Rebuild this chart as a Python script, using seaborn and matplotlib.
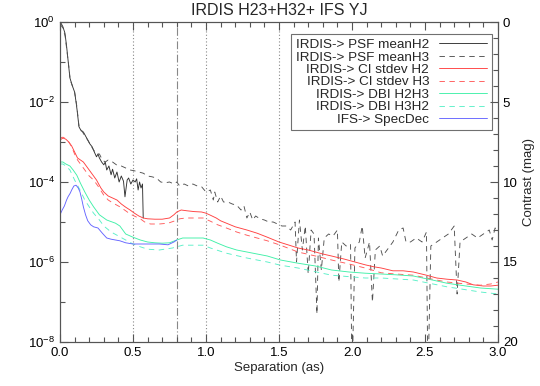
import numpy as np
import matplotlib
matplotlib.use("Agg")
import matplotlib.pyplot as plt
import seaborn as sns
from matplotlib.ticker import FixedLocator, NullFormatter, MultipleLocator, FormatStrFormatter, LogFormatterSciNotation

# Curvas de contraste (log10 de la intensidad relativa)
sep_psf_h2 = [0.0, 0.01, 0.02, 0.034, 0.045, 0.055, 0.068, 0.085, 0.1, 0.11, 0.117, 0.13, 0.145, 0.16,
              0.175, 0.19, 0.205, 0.22, 0.235, 0.25, 0.26, 0.27, 0.285, 0.3, 0.31, 0.32, 0.335, 0.35,
              0.36, 0.375, 0.39, 0.405, 0.42, 0.435, 0.445, 0.46, 0.47, 0.485, 0.5, 0.515, 0.525,
              0.535, 0.545, 0.555, 0.565, 0.57]
log_psf_h2 = [0.0, -0.05, -0.12, -0.28, -0.6, -0.95, -1.4, -1.6, -1.75, -2.0, -2.2, -2.62, -2.72, -2.75,
              -2.85, -2.95, -3.05, -3.12, -3.25, -3.37, -3.3, -3.4, -3.5, -3.57, -3.5, -3.7, -3.6, -3.82,
              -3.68, -3.9, -3.75, -4.0, -3.85, -3.98, -4.37, -3.95, -3.9, -4.05, -3.95, -4.0, -3.92,
              -4.2, -4.0, -4.15, -4.05, -4.9]

sep_psf_h3 = [0.0, 0.02, 0.035, 0.05, 0.06, 0.07, 0.085, 0.1, 0.115, 0.13, 0.15, 0.17, 0.19, 0.21, 0.23,
              0.25, 0.27, 0.29, 0.31, 0.33, 0.36, 0.39, 0.42, 0.45, 0.48, 0.51, 0.54, 0.57, 0.6, 0.63,
              0.66, 0.69, 0.72, 0.75, 0.78, 0.8, 0.82, 0.85, 0.88, 0.91, 0.94, 0.97, 1.0, 1.03, 1.05,
              1.06, 1.08, 1.1, 1.12, 1.15, 1.18, 1.21, 1.24, 1.26, 1.28, 1.3, 1.32, 1.34, 1.37, 1.4,
              1.43, 1.46, 1.49, 1.52, 1.55, 1.58, 1.61, 1.62, 1.64, 1.66, 1.68, 1.7, 1.72, 1.74, 1.76,
              1.77, 1.79, 1.81, 1.84, 1.87, 1.9, 1.91, 1.93, 1.96, 1.99, 2.0, 2.02, 2.05, 2.07, 2.09,
              2.12, 2.14, 2.16, 2.19, 2.21, 2.24, 2.28, 2.32, 2.35, 2.37, 2.4, 2.44, 2.48, 2.51, 2.52,
              2.54, 2.58, 2.62, 2.66, 2.7, 2.72, 2.74, 2.78, 2.82, 2.86, 2.9, 2.94, 2.96, 2.98, 3.0]
log_psf_h3 = [-0.05, -0.15, -0.35, -0.8, -1.1, -1.45, -1.6, -1.75, -2.1, -2.6, -2.72, -2.85, -2.95, -3.08,
              -3.2, -3.3, -3.3, -3.45, -3.5, -3.45, -3.5, -3.58, -3.6, -3.65, -3.7, -3.72, -3.75, -3.78,
              -3.85, -3.87, -3.9, -4.0, -4.02, -4.0, -4.05, -4.0, -4.1, -4.05, -4.1, -4.05, -4.1, -4.12,
              -4.25, -4.2, -4.45, -4.25, -4.5, -4.35, -4.5, -4.5, -4.55, -4.58, -4.7, -4.6, -4.9, -4.75,
              -4.95, -4.85, -4.92, -4.95, -5.0, -5.0, -5.05, -5.1, -5.1, -5.2, -5.0, -6.0, -4.95, -5.7,
              -5.1, -6.3, -5.2, -5.3, -7.3, -5.4, -6.2, -5.4, -5.3, -5.35, -5.2, -6.5, -5.5, -5.6, -5.55,
              -9.0, -5.65, -5.5, -5.1, -5.9, -5.5, -7.0, -5.7, -5.6, -5.85, -5.7, -5.5, -5.2, -5.15, -5.5,
              -5.5, -5.4, -5.5, -5.25, -9.0, -5.6, -5.5, -5.4, -5.3, -5.1, -6.8, -5.5, -5.4, -5.3, -5.4,
              -5.3, -5.2, -5.45, -5.15, -5.2]

sep_ci_h2 = [0.0, 0.02, 0.04, 0.06, 0.08, 0.1, 0.12, 0.14, 0.16, 0.18, 0.2, 0.22, 0.25, 0.28, 0.3, 0.33,
             0.36, 0.39, 0.42, 0.45, 0.48, 0.51, 0.54, 0.57, 0.6, 0.65, 0.7, 0.75, 0.78, 0.8, 0.83, 0.87,
             0.92, 0.97, 1.0, 1.03, 1.07, 1.1, 1.14, 1.2, 1.28, 1.35, 1.42, 1.5, 1.57, 1.63, 1.7, 1.75,
             1.8, 1.86, 1.95, 2.02, 2.09, 2.15, 2.2, 2.28, 2.35, 2.42, 2.51, 2.58, 2.65, 2.72, 2.78,
             2.83, 2.9, 2.95, 3.0]
log_ci_h2 = [-2.95, -2.9, -2.93, -3.0, -3.1, -3.25, -3.4, -3.45, -3.5, -3.6, -3.7, -3.8, -3.95, -4.15,
             -4.25, -4.35, -4.4, -4.45, -4.55, -4.63, -4.7, -4.78, -4.85, -4.9, -4.92, -4.93, -4.93,
             -4.9, -4.82, -4.75, -4.7, -4.72, -4.74, -4.75, -4.78, -4.83, -4.9, -4.97, -5.03, -5.12,
             -5.2, -5.28, -5.38, -5.5, -5.58, -5.65, -5.7, -5.75, -5.8, -5.85, -5.93, -6.0, -6.07,
             -6.12, -6.15, -6.22, -6.22, -6.25, -6.33, -6.4, -6.43, -6.45, -6.5, -6.57, -6.6, -6.6, -6.58]

sep_ci_h3 = [0.0, 0.02, 0.04, 0.06, 0.08, 0.1, 0.12, 0.14, 0.16, 0.18, 0.2, 0.23, 0.26, 0.3, 0.33, 0.36,
             0.41, 0.45, 0.48, 0.52, 0.55, 0.58, 0.62, 0.68, 0.74, 0.78, 0.82, 0.86, 0.92, 0.98, 1.03,
             1.08, 1.14, 1.21, 1.28, 1.35, 1.42, 1.51, 1.63, 1.75, 1.86, 1.98, 2.09, 2.2, 2.3, 2.42,
             2.55, 2.65, 2.78, 2.88, 2.95, 3.0]
log_ci_h3 = [-2.9, -2.88, -2.92, -3.0, -3.12, -3.3, -3.45, -3.55, -3.65, -3.75, -3.85, -3.95, -4.1,
             -4.33, -4.45, -4.52, -4.62, -4.72, -4.8, -4.87, -4.92, -5.0, -5.05, -5.05, -5.03, -4.98,
             -4.92, -4.9, -4.9, -4.9, -4.98, -5.07, -5.15, -5.25, -5.33, -5.4, -5.47, -5.58, -5.75,
             -5.85, -5.95, -6.05, -6.15, -6.27, -6.3, -6.33, -6.43, -6.5, -6.55, -6.58, -6.55, -6.5]

sep_dbi_h2h3 = [0.0, 0.02, 0.04, 0.068, 0.09, 0.115, 0.14, 0.17, 0.2, 0.23, 0.27, 0.32, 0.38, 0.41, 0.45,
                0.5, 0.55, 0.6, 0.65, 0.7, 0.75, 0.8, 0.84, 0.9, 0.98, 1.03, 1.08, 1.14, 1.21, 1.28,
                1.35, 1.42, 1.51, 1.63, 1.75, 1.86, 1.98, 2.09, 2.2, 2.3, 2.42, 2.55, 2.65, 2.78, 2.88, 3.0]
log_dbi_h2h3 = [-3.5, -3.5, -3.55, -3.6, -3.7, -3.83, -4.03, -4.25, -4.45, -4.62, -4.82, -4.95, -5.03,
                -5.1, -5.3, -5.38, -5.45, -5.5, -5.52, -5.53, -5.52, -5.45, -5.4, -5.4, -5.4, -5.45,
                -5.53, -5.62, -5.7, -5.75, -5.8, -5.85, -5.95, -6.03, -6.1, -6.2, -6.25, -6.28, -6.3,
                -6.32, -6.35, -6.45, -6.53, -6.6, -6.65, -6.68]

sep_dbi_h3h2 = [0.0, 0.02, 0.04, 0.068, 0.1, 0.137, 0.17, 0.2, 0.23, 0.27, 0.3, 0.35, 0.4, 0.45, 0.5,
                0.55, 0.6, 0.68, 0.77, 0.84, 0.98, 1.03, 1.14, 1.28, 1.42, 1.51, 1.63, 1.86, 2.09, 2.2,
                2.42, 2.65, 2.88, 3.0]
log_dbi_h3h2 = [-3.55, -3.55, -3.6, -3.7, -3.95, -4.2, -4.45, -4.62, -4.78, -4.95, -5.1, -5.25, -5.35,
                -5.45, -5.55, -5.62, -5.68, -5.7, -5.65, -5.58, -5.58, -5.65, -5.78, -5.9, -6.0, -6.08,
                -6.15, -6.33, -6.4, -6.4, -6.45, -6.62, -6.75, -6.8]

sep_ifs = [0.0, 0.015, 0.03, 0.045, 0.055, 0.07, 0.08, 0.095, 0.11, 0.125, 0.137, 0.15, 0.16, 0.175,
           0.19, 0.21, 0.23, 0.26, 0.29, 0.32, 0.35, 0.38, 0.41, 0.45, 0.5, 0.55, 0.6, 0.68, 0.74,
           0.78, 0.8]
log_ifs = [-4.82, -4.7, -4.6, -4.45, -4.37, -4.28, -4.2, -4.1, -4.08, -4.15, -4.25, -4.45, -4.62, -4.82,
           -4.97, -5.07, -5.12, -5.15, -5.28, -5.4, -5.43, -5.45, -5.47, -5.52, -5.55, -5.55, -5.55,
           -5.55, -5.57, -5.5, -5.45]

vlines_dotted = [0.5, 1.0, 1.5]
vline_dashdot = 0.8

sns.set_style("ticks")
plt.rcParams['font.family'] = ['Liberation Sans', 'DejaVu Sans']
plt.rcParams['mathtext.default'] = 'regular'

axis_col = "#555555"
fig = plt.figure(figsize=(5.4, 3.86), dpi=100)
ax = fig.add_axes([60 / 540, 1 - 342 / 386, 438 / 540, 320 / 386])

series = [
    (sep_psf_h2, log_psf_h2, "#303030", "-", "IRDIS-> PSF meanH2"),
    (sep_psf_h3, log_psf_h3, "#505050", (0, (6, 5)), "IRDIS-> PSF meanH3"),
    (sep_ci_h2, log_ci_h2, "#ff4040", "-", "IRDIS-> CI stdev H2"),
    (sep_ci_h3, log_ci_h3, "#ff5a5a", (0, (6, 5)), "IRDIS-> CI stdev H3"),
    (sep_dbi_h2h3, log_dbi_h2h3, "#40f0a8", "-", "IRDIS-> DBI H2H3"),
    (sep_dbi_h3h2, log_dbi_h3h2, "#5af0c8", (0, (6, 5)), "IRDIS-> DBI H3H2"),
    (sep_ifs, log_ifs, "#6464ff", "-", "IFS-> SpecDec"),
]

for xs, ls_log, col, lstyle, lab in series:
    sns.lineplot(x=np.array(xs), y=10.0 ** np.array(ls_log), ax=ax, color=col, linestyle=lstyle,
                 linewidth=0.65, label=lab, estimator=None, sort=False)

for v in vlines_dotted:
    ax.axvline(v, color="#888888", lw=0.8, linestyle=(0, (1, 2)), zorder=0)
ax.axvline(vline_dashdot, color="#888888", lw=0.8, linestyle=(0, (7, 2, 1, 2)), zorder=0)

ax.set_yscale("log")
ax.set_xlim(0, 3.0)
ax.set_ylim(1e-8, 1e0)
ax.yaxis.set_major_locator(FixedLocator([1e-8, 1e-6, 1e-4, 1e-2, 1e0]))
ax.yaxis.set_major_formatter(LogFormatterSciNotation())
ax.yaxis.set_minor_locator(FixedLocator([1e-7, 1e-5, 1e-3, 1e-1]))
ax.yaxis.set_minor_formatter(NullFormatter())
ax.xaxis.set_major_locator(MultipleLocator(0.5))
ax.xaxis.set_minor_locator(MultipleLocator(0.1))
ax.xaxis.set_major_formatter(FormatStrFormatter("%.1f"))
ax.tick_params(which="both", direction="in", top=True, right=False, colors=axis_col,
               labelcolor="black", labelsize=9.5, width=0.8)
ax.tick_params(which="major", length=6)
ax.tick_params(which="minor", length=3.5)
for s in ax.spines.values():
    s.set_color(axis_col)
    s.set_linewidth(0.8)
ax.set_xlabel("Separation (as)", fontsize=9.5, labelpad=2)
ax.set_ylabel("")
ax.set_title("IRDIS H23+H32+ IFS YJ", fontsize=11.5, pad=5)

ax2 = ax.twinx()
ax2.set_ylim(20, 0)
ax2.yaxis.set_major_locator(MultipleLocator(5))
ax2.yaxis.set_minor_locator(MultipleLocator(1))
ax2.tick_params(which="both", direction="in", colors=axis_col, labelcolor="black", labelsize=9.5, width=0.8)
ax2.tick_params(which="major", length=6)
ax2.tick_params(which="minor", length=3.5)
for s in ax2.spines.values():
    s.set_color(axis_col)
    s.set_linewidth(0.8)
ax2.set_ylabel("Contrast (mag)", fontsize=9.5)

handles, labels = ax.get_legend_handles_labels()
leg = ax.legend(handles, labels, loc="upper right", bbox_to_anchor=(0.986, 0.9625), borderaxespad=0,
                fontsize=9.7, markerfirst=False, handlelength=3.6, handletextpad=0.7, labelspacing=0.0,
                borderpad=0.35, fancybox=False, framealpha=1, edgecolor="#707070")
leg.get_frame().set_linewidth(0.8)

fig.savefig("out.png", dpi=100)
